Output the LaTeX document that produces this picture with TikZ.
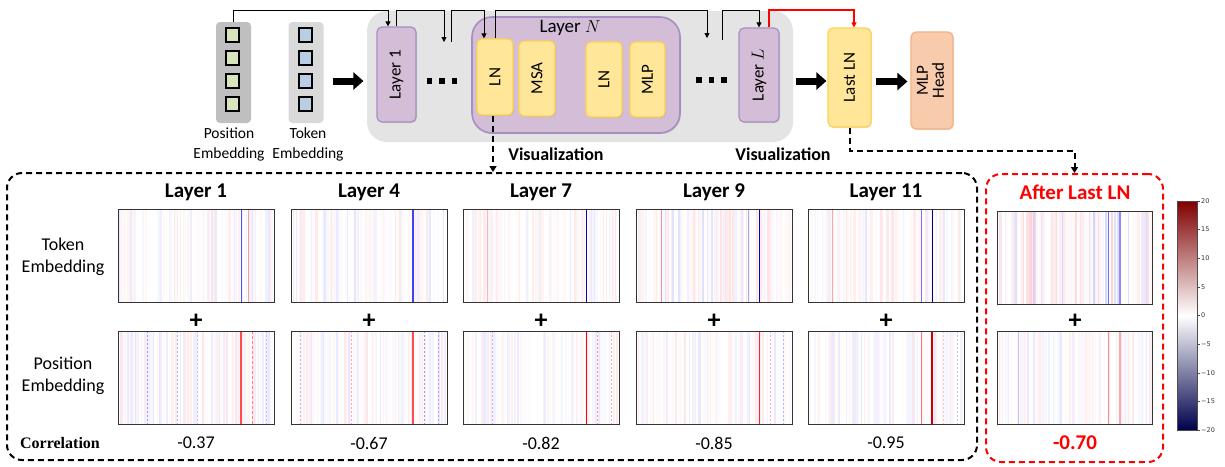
\documentclass[tikz,border=0pt]{standalone}
\usepackage{fontspec}
\setmainfont{Carlito}
\newfontfamily\cbfont{DejaVu Sans}
\newfontfamily\serifb{Liberation Serif}
\usetikzlibrary{arrows.meta,shadows}
\definecolor{purfill}{HTML}{D4BDD6}
\definecolor{purbd}{HTML}{A48FC2}
\definecolor{yelfill}{HTML}{FFE699}
\definecolor{yelbd}{HTML}{FFD34F}
\definecolor{orfill}{HTML}{F8CBAD}
\definecolor{orbd}{HTML}{F4B183}
\definecolor{bggray}{HTML}{E4E4E4}
\definecolor{posgray}{HTML}{BFBFBF}
\definecolor{tokgray}{HTML}{D9D9D9}
\definecolor{grn}{HTML}{D8E4BC}
\definecolor{blu}{HTML}{B9CDE5}
\definecolor{dkred}{rgb}{0.5,0,0}
\definecolor{dkblue}{rgb}{0,0,0.3}
\newcommand\fsz[2]{\fontsize{#1}{#2}\selectfont}
\newcommand\dotsq{\rule{5.5pt}{5.5pt}\hspace{7pt}\rule{5.5pt}{5.5pt}\hspace{7pt}\rule{5.5pt}{5.5pt}}
\newcommand\hmbase[6]{% x0, y0, seed, max opacity, width, red share
  \pgfmathsetseed{#3}
  \foreach \i in {0,1.5,...,#5} {
    \pgfmathsetmacro\hmr{rnd}
    \pgfmathsetmacro\hma{rnd}
    \pgfmathsetmacro\hmo{\hma*\hma*#4}
    \ifdim\hmr pt<#6pt
      \fill[red, opacity=\hmo] (#1+\i,#2) rectangle (#1+\i+1.5,#2+93);
    \else
      \fill[blue, opacity=\hmo] (#1+\i,#2) rectangle (#1+\i+1.5,#2+93);
    \fi
  }
}
\newcommand\hl[5]{\draw[#3, line width=#4pt, #5] (#1,#2) -- (#1,#2+93);}
\tikzset{
  pbox/.style={draw=purbd, fill=purfill, line width=1.2pt, rounded corners=5pt, inner sep=0,
    drop shadow={shadow xshift=1pt, shadow yshift=-1pt, opacity=0.25}},
  ybox/.style={draw=yelbd, fill=yelfill, line width=1.2pt, rounded corners=5pt, inner sep=0,
    drop shadow={shadow xshift=1pt, shadow yshift=-1pt, opacity=0.25}},
  obox/.style={draw=orbd, fill=orfill, line width=1.2pt, rounded corners=5pt, inner sep=0,
    drop shadow={shadow xshift=1pt, shadow yshift=-1pt, opacity=0.25}},
  embbox/.style={rounded corners=4pt, minimum width=35, minimum height=101, inner sep=0},
  sq/.style={draw=black, line width=1.6pt, minimum size=13.5, inner sep=0},
  fat/.style={line width=7pt, -{Triangle[length=10pt,width=17pt]}},
  conn/.style={line width=0.8pt, -{Triangle[length=5pt,width=5pt]}},
  dasharr/.style={line width=2pt, dash pattern=on 6pt off 4pt, -{Triangle[length=6pt,width=7pt]}},
  hm/.style={draw=black!80, line width=0.9pt, minimum width=156, minimum height=93, inner sep=0},
  ptitle/.style={font=\fsz{21}{24}\bfseries},
  plus/.style={font=\fsz{26}{28}\bfseries},
  corr/.style={font=\fsz{18}{20}},
  rowlab/.style={align=center, font=\fsz{18}{22}},
  spk/.style={dash pattern=on 2pt off 2pt},
}
\begin{document}
\begin{tikzpicture}[x=1pt,y=-1pt]
\useasboundingbox[fill=white] (0,0) rectangle (1225,466);
\coordinate (top) at (0,10);
% ---------- top pipeline ----------
\node[fill=bggray, rounded corners=20pt, minimum width=426, minimum height=131, inner sep=0] (bg) at (580,76.5) {};
\node[embbox, fill=posgray] (pos) at (233.5,72.5) {};
\node[embbox, fill=tokgray] (tok) at (306,72.5) {};
\foreach \y [count=\k] in {35,58,81,104} {
  \node[sq, fill=grn] (p\k) at (232.5,\y) {};
  \node[sq, fill=blu] (t\k) at (305.5,\y) {};
}
\node[align=center, font=\fsz{15.5}{20}] (poslab) at (229,144) {Position\\Embedding};
\node[align=center, font=\fsz{15.5}{20}] (toklab) at (308,144) {Token\\Embedding};

\node[pbox, minimum width=39, minimum height=95, font=\fsz{17}{20}] (l1) at (396.5,74.5) {\rotatebox{90}{Layer 1}};
\node (d1) at (442,81) {\dotsq};
\node[pbox, line width=1.6pt, rounded corners=20pt, minimum width=208, minimum height=116] (lN) at (576,75) {};
\node[font=\fsz{19}{22}] (lNt) at (570,28) {Layer $N$};
\node[ybox, minimum width=36, minimum height=76, font=\fsz{17}{20}] (ln1) at (495,77) {\rotatebox{90}{LN}};
\node[ybox, minimum width=36, minimum height=75, font=\fsz{17}{20}] (msa) at (537,78.5) {\rotatebox{90}{MSA}};
\node[ybox, minimum width=36, minimum height=75, font=\fsz{17}{20}] (ln2) at (604,79.5) {\rotatebox{90}{LN}};
\node[ybox, minimum width=35, minimum height=75, font=\fsz{17}{20}] (mlp) at (647.5,79.5) {\rotatebox{90}{MLP}};
\node (d2) at (711.5,80) {\dotsq};
\node[pbox, minimum width=40, minimum height=94, font=\fsz{17}{20}] (lL) at (759,75) {\rotatebox{90}{Layer $L$}};
\node[ybox, minimum width=43, minimum height=99, font=\fsz{17}{20}] (last) at (849.5,77.5) {\rotatebox{90}{Last LN}};
\node[obox, minimum width=42, minimum height=97, font=\fsz{17}{19}] (head) at (932,80.5) {\rotatebox{90}{\begin{tabular}{@{}c@{}}MLP\\[-3pt]Head\end{tabular}}};

% fat arrows
\draw[fat, shorten <=9pt, shorten >=13pt] (tok.east |- d1) -- (l1.west |- d1);
\draw[fat, shorten <=16pt, shorten >=1pt] (lL.east |- d1) -- (last.west |- d1);
\draw[fat, shorten <=4pt, shorten >=3pt] ([yshift=-4pt]last.east) -- ([yshift=-4pt]last.east -| head.west);

% thin connectors
\coordinate (d1in) at (444,42);
\coordinate (d1out) at (451,42);
\coordinate (d2in) at (707,38);
\coordinate (d2out) at (722,40);
\draw[conn] (pos.north) -- (pos.north |- top) -| ([xshift=-8.5pt]l1.north);
\draw[conn] (l1.north) -- (l1.north |- top) -| (d1in);
\draw[conn] (d1out) -- (d1out |- top) -| ([xshift=-11pt]ln1.north);
\draw[conn] (ln1.north) -- (ln1.north |- top) -| (d2in);
\draw[conn] (d2out) -- (d2out |- top) -| (lL.north);
\draw[conn, red, line width=1.2pt] ([xshift=10pt]lL.north) -- ([xshift=10pt]lL.north |- top) -| ([xshift=4.5pt]last.north);

\node[font=\fsz{18}{20}\bfseries] (vis1) at (556,154) {Visualization};
\node[font=\fsz{18}{20}\bfseries] (vis2) at (783,154) {Visualization};

% ---------- bottom boxes ----------
\node[draw, line width=2pt, dash pattern=on 6pt off 4pt, rounded corners=15pt, minimum width=970, minimum height=287, inner sep=0] (vbox) at (492,316.5) {};
\node[draw=red, line width=2pt, dash pattern=on 6pt off 4pt, rounded corners=15pt, minimum width=177, minimum height=288, inner sep=0] (rbox) at (1074.5,318) {};
\draw[dasharr] ([xshift=-2pt]ln1.south) -- ([xshift=-2pt]ln1.south |- vbox.north);
\draw[dasharr] (last.south) -- ++(0,23) -| (rbox.north);

% row labels
\node[rowlab] (rt) at (63,257) {Token\\Embedding};
\node[rowlab] (rp) at (63,376) {Position\\Embedding};
\node[font=\fsz{16}{18}\serifb\bfseries] (rc) at (60,443) {Correlation};

% heatmap backgrounds
\hmbase{118}{209}{11}{0.10}{154}{0.55}
\hmbase{118}{331}{12}{0.10}{154}{0.45}
\hmbase{291}{209}{21}{0.10}{154}{0.6}
\hmbase{291}{331}{22}{0.10}{154}{0.5}
\hmbase{463}{209}{31}{0.10}{154}{0.6}
\hmbase{463}{331}{32}{0.09}{154}{0.45}
\hmbase{636}{209}{41}{0.12}{154}{0.6}
\hmbase{636}{331}{42}{0.09}{154}{0.45}
\hmbase{808}{209}{51}{0.10}{154}{0.65}
\hmbase{808}{331}{52}{0.09}{154}{0.45}
\hmbase{997}{211}{61}{0.18}{153}{0.65}
\hmbase{997}{331}{62}{0.09}{153}{0.45}

% strong lines
\hl{241}{209}{blue!70}{1}{}
\hl{248}{209}{red!40}{0.7}{}
\hl{241}{331}{red!70}{1.2}{}
\hl{252}{331}{red!50}{1}{dash pattern=on 3pt off 2pt}
\hl{147}{331}{blue!40}{0.8}{spk}
\hl{177}{331}{blue!30}{0.8}{spk}
\hl{197}{331}{blue!25}{0.6}{spk}
\hl{266}{331}{blue!25}{0.6}{spk}

\hl{413}{209}{blue!75}{1.2}{}
\hl{413}{331}{red!70}{1.5}{}
\hl{424}{331}{blue!40}{0.8}{spk}
\hl{438}{331}{blue!35}{0.7}{spk}
\hl{300}{331}{blue!25}{0.6}{spk}
\hl{351}{331}{red!35}{0.7}{spk}

\hl{586}{209}{blue!80!black}{1}{}
\hl{487}{209}{red!30}{1}{}
\hl{586}{331}{red}{1}{}
\hl{597}{331}{red!40}{0.8}{spk}
\hl{611}{331}{red!30}{0.7}{spk}
\hl{492}{331}{blue!30}{0.6}{spk}

\hl{661}{209}{red!45}{1}{}
\hl{748}{209}{blue!35}{0.8}{}
\hl{759}{209}{blue!80!black}{1}{}
\hl{759}{331}{red!85}{1}{}
\hl{770}{331}{red!35}{0.7}{spk}
\hl{783}{331}{blue!30}{0.7}{spk}

\hl{832}{209}{red!35}{1}{}
\hl{921}{209}{blue!55}{0.8}{}
\hl{932}{209}{blue!50!black}{1}{}
\hl{921}{331}{red!55}{0.8}{}
\hl{932}{331}{red!80!black}{1.2}{}
\hl{943}{331}{red!25}{0.7}{spk}
\hl{957}{331}{blue!25}{0.7}{spk}

\hl{1108}{211}{blue!55}{0.8}{}
\hl{1120}{211}{blue!45}{1.2}{}
\hl{1108}{331}{red!45}{0.8}{}
\hl{1120}{331}{red!35}{1.5}{}
\hl{1018}{331}{blue!25}{1}{}

% heatmap frames, titles, plus signs, values
\foreach \x/\t/\v [count=\k] in {196/Layer 1/-0.37, 369/Layer 4/-0.67, 541/Layer 7/-0.82, 714/Layer 9/-0.85, 886/Layer 11/-0.95} {
  \node[ptitle] (ti\k) at (\x,192) {\t};
  \node[hm] (hmt\k) at (\x,255.5) {};
  \node[plus] (pl\k) at (\x,321) {+};
  \node[hm] (hmp\k) at (\x,377.5) {};
  \node[corr] (cv\k) at (\x,443) {\v};
}
\node[ptitle, text=red] (tir) at (1075,192) {After Last LN};
\node[hm, minimum width=155] (hmtr) at (1074.5,257.5) {};
\node[plus] (plr) at (1075,321) {+};
\node[hm, minimum width=155] (hmpr) at (1074.5,377.5) {};
\node[font=\fsz{21}{24}\bfseries, text=red] (cvr) at (1075,443) {-0.70};

% colour bar
\shade[top color=dkred, middle color=red, bottom color=white] (1177,201) rectangle (1197,315.5);
\shade[top color=white, middle color=blue, bottom color=dkblue] (1177,315.5) rectangle (1197,430);
\node[draw=black!70, line width=0.4pt, minimum width=20, minimum height=229, inner sep=0] (cbar) at (1187,315.5) {};
\foreach \v/\lab in {20/20,15/15,10/10,5/5,0/0,-5/−5,-10/−10,-15/−15,-20/−20} {
  \draw[line width=0.4pt, black!70] (1197,315.5-\v*5.725) -- (1199.5,315.5-\v*5.725);
  \node[anchor=west, inner sep=0, font=\cbfont\fsz{6.5}{7}, text=black!80] at (1201,315.5-\v*5.725) {\lab};
}
\end{tikzpicture}
\end{document}
